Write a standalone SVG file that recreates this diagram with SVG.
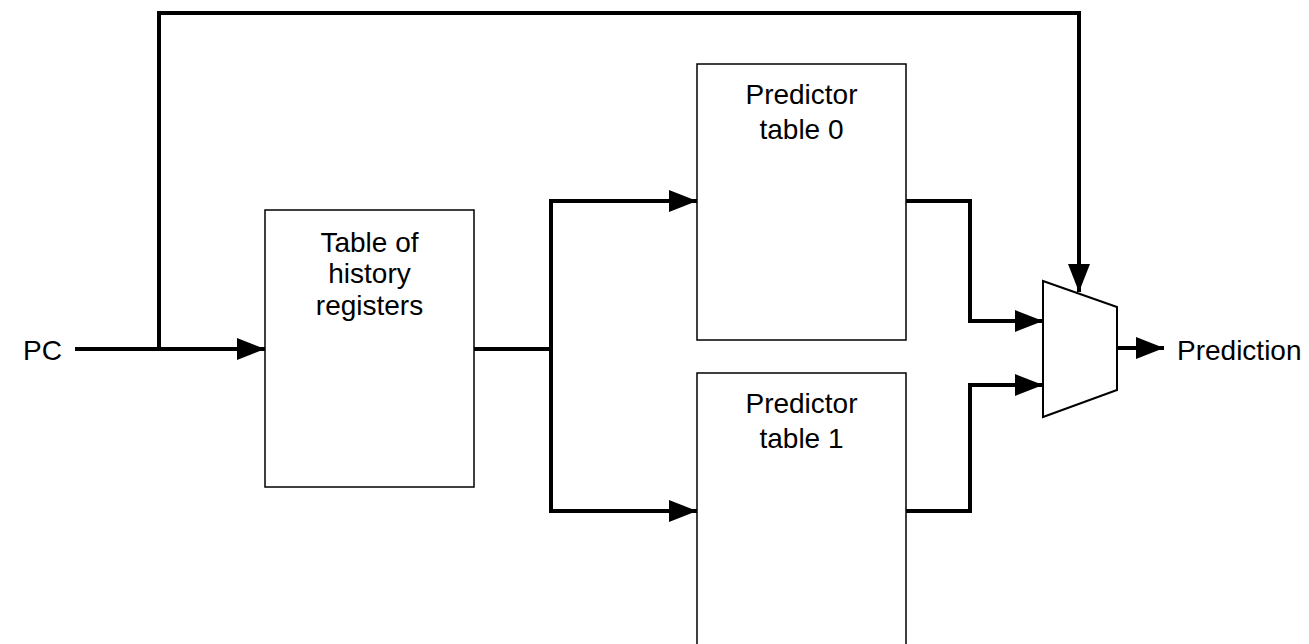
<svg xmlns="http://www.w3.org/2000/svg" width="1309" height="644" viewBox="0 0 1309 644">
<style>
.box{fill:#fff;stroke:#000;stroke-width:1.5}
.mux{fill:#fff;stroke:#000;stroke-width:2}
.wire{fill:none;stroke:#000;stroke-width:4;stroke-linejoin:miter}
text{font-family:"Liberation Sans",Arial,Helvetica,sans-serif;font-size:28px;fill:#000}
.c{text-anchor:middle}
</style>
<defs>
<marker id="ah" markerUnits="userSpaceOnUse" markerWidth="30" markerHeight="24" refX="28" refY="11" orient="auto">
<path d="M0,0 L28,11 L0,22 Z" fill="#000"/>
</marker>
</defs>
<rect width="1309" height="644" fill="#fff"/>
<g id="history">
<rect class="box" x="265" y="210" width="209" height="277"/>
<text class="c" x="369.5" y="252">Table of</text>
<text class="c" x="369.5" y="283">history</text>
<text class="c" x="369.5" y="315">registers</text>
</g>
<g id="pred0">
<rect class="box" x="697" y="64" width="209" height="276"/>
<text class="c" x="801.5" y="104">Predictor</text>
<text class="c" x="801.5" y="139">table 0</text>
</g>
<g id="pred1">
<rect class="box" x="697" y="373" width="209" height="280"/>
<text class="c" x="801.5" y="413">Predictor</text>
<text class="c" x="801.5" y="448">table 1</text>
</g>
<g id="mux">
<polygon class="mux" points="1043,281 1117,307 1117,390 1043,417"/>
</g>
<g id="labels">
<text x="23" y="360">PC</text>
<text x="1177" y="360">Prediction</text>
</g>
<g id="connectors">
<line class="wire" x1="75" y1="349" x2="265" y2="349" marker-end="url(#ah)"/>
<polyline class="wire" points="159,349 159,13 1079,13 1079,292" marker-end="url(#ah)"/>
<line class="wire" x1="474" y1="349" x2="551" y2="349"/>
<polyline class="wire" points="551,349 551,201 697,201" marker-end="url(#ah)"/>
<polyline class="wire" points="551,349 551,511 697,511" marker-end="url(#ah)"/>
<polyline class="wire" points="906,201 970,201 970,321 1043,321" marker-end="url(#ah)"/>
<polyline class="wire" points="906,511 970,511 970,385 1043,385" marker-end="url(#ah)"/>
<line class="wire" x1="1117" y1="348" x2="1164" y2="348" marker-end="url(#ah)"/>
</g>
</svg>
